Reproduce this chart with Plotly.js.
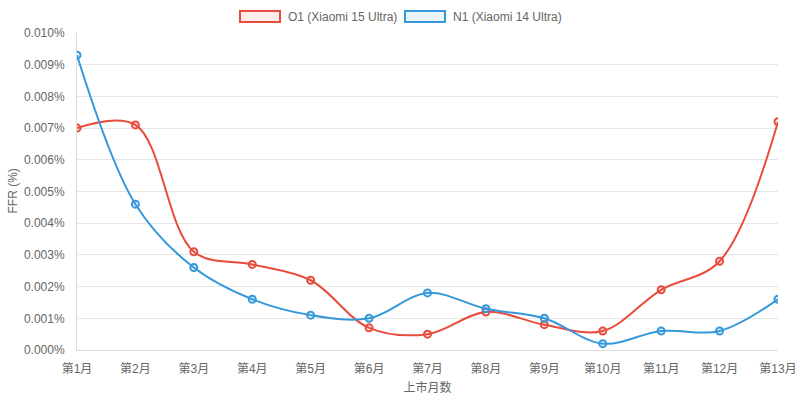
<!DOCTYPE html>
<html>
<head>
<meta charset="utf-8">
<script src="https://cdn.plot.ly/plotly-3.0.1.min.js"></script>
<style>
  html, body { margin: 0; padding: 0; background: #fff; }
  #chart { width: 800px; height: 401px; }
</style>
</head>
<body>
<div id="chart"></div>
<script>
// ---- data (FFR in %) ----
var months = ['第1月', '第2月', '第3月', '第4月', '第5月', '第6月', '第7月',
              '第8月', '第9月', '第10月', '第11月', '第12月', '第13月'];
var o1Values = [0.0070, 0.0071, 0.0031, 0.0027, 0.0022, 0.0007, 0.0005,
                0.0012, 0.0008, 0.0006, 0.0019, 0.0028, 0.0072];
var n1Values = [0.0093, 0.0046, 0.0026, 0.0016, 0.0011, 0.0010, 0.0018,
                0.0013, 0.0010, 0.0002, 0.0006, 0.0006, 0.0016];
var seriesNames = ['O1 (Xiaomi 15 Ultra)', 'N1 (Xiaomi 14 Ultra)'];
var yTicks = [0, 0.001, 0.002, 0.003, 0.004, 0.005, 0.006, 0.007, 0.008, 0.009, 0.010];
var yTickText = yTicks.map(function (v) { return v.toFixed(3) + '%'; });

var red = '#e74c3c', blue = '#3498db';
var FONT = 'Liberation Sans, Arial, Noto Sans CJK SC, sans-serif';

function lineTrace(name, vals, col, fill) {
  return {
    x: months, y: vals, name: name, type: 'scatter', mode: 'lines+markers',
    line: { color: col, width: 2, shape: 'spline', smoothing: 1 },
    marker: { symbol: 'circle', size: 7, color: fill, line: { color: col, width: 2 } },
    showlegend: false,
    hovertemplate: '%{x}: %{y:.4f}%<extra>' + name + '</extra>'
  };
}

var traces = [
  lineTrace(seriesNames[0], o1Values, red, 'rgba(231,76,60,0.1)'),
  lineTrace(seriesNames[1], n1Values, blue, 'rgba(52,152,219,0.1)')
];

// pixel -> paper helpers for the chart.js-like legend on top
var L = 77, R = 22, T = 33, B = 51, W = 800, H = 401;
var pw = W - L - R, ph = H - T - B;
function px(x) { return (x - L) / pw; }
function py(y) { return (H - B - y) / ph; }

var shapes = [
  { type: 'rect', xref: 'paper', yref: 'paper', x0: px(240), x1: px(280), y0: py(22), y1: py(11),
    line: { color: red, width: 2 }, fillcolor: 'rgba(231,76,60,0.1)' },
  { type: 'rect', xref: 'paper', yref: 'paper', x0: px(405), x1: px(445), y0: py(22), y1: py(11),
    line: { color: blue, width: 2 }, fillcolor: 'rgba(52,152,219,0.1)' }
];

var annotations = [
  { xref: 'paper', yref: 'paper', x: px(286), y: py(16.5), xanchor: 'left', yanchor: 'middle',
    text: seriesNames[0], showarrow: false, font: { size: 12, color: '#666', family: FONT } },
  { xref: 'paper', yref: 'paper', x: px(451), y: py(16.5), xanchor: 'left', yanchor: 'middle',
    text: seriesNames[1], showarrow: false, font: { size: 12, color: '#666', family: FONT } },
  // y axis title, placed like chart.js does
  { xref: 'paper', yref: 'paper', x: px(12), y: 0.5, xanchor: 'center', yanchor: 'middle',
    textangle: -90, text: 'FFR (%)', showarrow: false,
    font: { size: 12, color: '#666', family: FONT } }
];

var layout = {
  width: W, height: H,
  margin: { l: L, r: R, t: T, b: B },
  paper_bgcolor: '#fff', plot_bgcolor: '#fff',
  font: { family: FONT, size: 12, color: '#666' },
  showlegend: false,
  xaxis: {
    type: 'category', range: [0, months.length - 1],
    showgrid: false, zeroline: false,
    showline: true, linecolor: '#dcdcdc', linewidth: 1,
    ticks: '', ticklabelstandoff: 8,
    tickfont: { size: 12, color: '#666' },
    title: { text: '上市月数', font: { size: 12, color: '#666' }, standoff: 8 }
  },
  yaxis: {
    range: [0, 0.010], tickmode: 'array', tickvals: yTicks, ticktext: yTickText,
    showgrid: true, gridcolor: '#e6e6e6', gridwidth: 1,
    zeroline: false, showline: true, linecolor: '#dcdcdc', linewidth: 1,
    ticks: '', ticklabelstandoff: 9,
    tickfont: { size: 12, color: '#666' }
  },
  shapes: shapes,
  annotations: annotations
};

Plotly.newPlot('chart', traces, layout, { displayModeBar: false, responsive: false });
</script>
</body>
</html>
